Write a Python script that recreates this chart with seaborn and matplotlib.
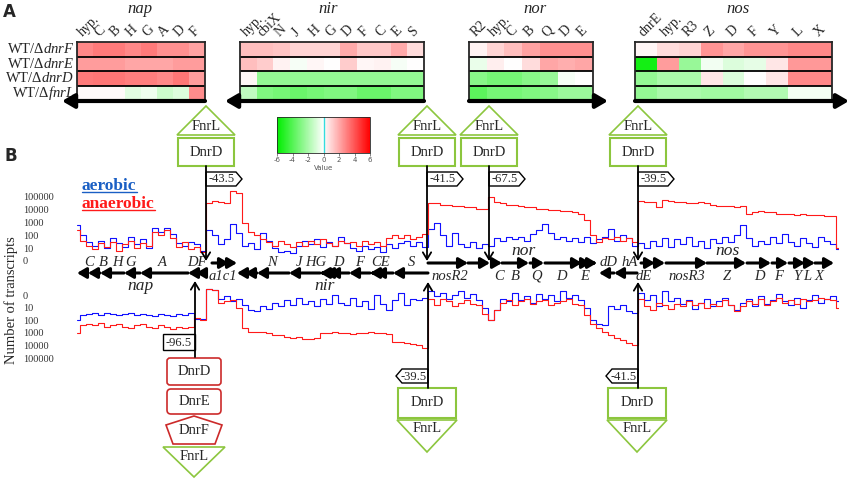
import numpy as np
import pandas as pd
import matplotlib
matplotlib.use("Agg")
import matplotlib.pyplot as plt
import seaborn as sns
from matplotlib.colors import LinearSegmentedColormap
from matplotlib.patches import Polygon, Rectangle, FancyBboxPatch

W, H = 851, 480

# ---- panel A: expression ratios (log2), rows = mutants
mutants = ["dnrF", "dnrE", "dnrD", "fnrL"]

nap_genes = ["hyp.", "C", "B", "H", "G", "A", "D", "F"]
nap_vals = [[2.8, 3.1, 3.1, 2.8, 3.1, 2.6, 2.6, 2.2],
            [2.3, 2.3, 2.3, 2.1, 2.1, 2.1, 2.3, 2.3],
            [3.1, 3.2, 3.2, 3.0, 3.0, 2.8, 3.2, 2.3],
            [0.1, 0.1, 0.1, -0.7, -0.4, -1.2, -0.8, 2.7]]

nir_genes = ["hyp.", "cbiX", "N", "J", "H", "G", "D", "F", "C", "E", "S"]
nir_vals = [[1.5, 1.5, 1.4, 1.0, 1.0, 1.0, 2.0, 1.3, 1.3, 2.0, 0.8],
            [1.5, 1.2, 0.3, -0.2, 0.2, 0.0, 1.2, 0.2, 0.3, -0.2, 0.0],
            [0.2, -2.5, -2.5, -2.5, -2.5, -2.5, -2.5, -2.5, -2.5, -2.5, -2.5],
            [-1.5, -3.0, -3.2, -3.5, -3.2, -3.0, -3.0, -3.5, -3.5, -3.0, -3.0]]

nor_genes = ["R2", "hyp.", "C", "B", "Q", "D", "E"]
nor_vals = [[0.3, 1.0, 1.5, 2.2, 2.6, 2.6, 2.6],
            [-0.5, 0.4, 0.0, 0.8, 2.1, 1.9, 2.1],
            [-2.8, -3.2, -3.2, -2.8, -2.4, -0.2, 0.0],
            [-3.8, -3.2, -3.2, -3.0, -2.8, -2.3, -2.3]]

nos_genes = ["dnrE", "hyp.", "R3", "Z", "D", "F", "Y", "L", "X"]
nos_vals = [[0.2, 0.8, 1.0, 2.5, 2.1, 2.5, 2.5, 2.8, 2.8],
            [-5.5, 2.3, -2.4, -0.3, -0.8, -0.6, 0.6, 2.4, 2.4],
            [-2.5, -2.0, -2.0, 0.6, -0.8, 0.0, 0.6, 2.8, 2.8],
            [-2.5, -2.0, -2.0, -2.2, -2.2, -1.8, -1.8, -0.3, -0.3]]

# ---- panel B: log10 transcript counts along the locus (128 bins)
aerobic_top = [2.8, 2.0, 1.5, 1.2, 1.6, 1.0, 1.8, 1.4, 1.1, 1.9, 1.3, 1.7, 1.0, 2.6, 2.3, 2.6,
               2.1, 1.4, 1.2, 1.5, 1.3, 0.8, 2.4, 2.0, 1.3, 1.7, 2.9, 2.2, 1.2, 1.4, 0.9, 2.2,
               1.6, 1.0, 0.7, 0.8, 0.6, 1.2, 1.6, 1.3, 1.7, 1.1, 1.5, 1.2, 1.9, 1.4, 1.0, 0.8,
               1.2, 0.9, 1.1, 0.7, 1.3, 1.0, 1.4, 1.6, 1.2, 1.5, 1.1, 2.5, 3.0, 2.0, 1.2, 2.2,
               1.3, 1.1, 1.5, 1.0, 1.3, 1.2, 1.8, 1.6, 1.9, 1.7, 1.9, 1.6, 2.1, 2.4, 2.9, 2.2,
               1.7, 1.9, 1.6, 1.8, 1.5, 1.9, 1.4, 1.7, 1.9, 2.5, 1.6, 2.0, 1.8, 1.2, 1.4, 1.0,
               1.6, 1.2, 1.8, 1.1, 1.7, 1.3, 1.9, 1.2, 1.6, 1.0, 1.7, 1.4, 1.9, 1.5, 2.0, 2.8,
               1.8, 1.2, 1.6, 1.3, 1.9, 1.4, 2.1, 1.5, 1.2, 1.8, 1.4, 1.1, 1.9, 1.6, 1.3, 0.9]
anaerobic_top = [2.4, 1.6, 1.2, 0.9, 1.4, 1.1, 1.5, 0.8, 1.3, 1.6, 1.0, 1.4, 1.2, 2.3, 2.0, 2.4,
                 1.8, 1.1, 1.5, 0.9, 1.1, 0.7, 4.5, 4.7, 4.6, 4.5, 5.5, 5.3, 3.0, 2.3, 2.0, 1.7,
                 1.5, 1.2, 1.6, 1.3, 1.1, 1.5, 1.2, 1.6, 1.3, 1.7, 1.4, 1.2, 1.6, 1.4, 1.5, 1.2,
                 1.6, 1.3, 1.5, 1.2, 1.8, 2.0, 1.8, 2.0, 1.7, 1.9, 2.1, 4.5, 4.5, 4.4, 4.4, 4.3,
                 4.3, 4.2, 4.2, 4.1, 4.1, 5.0, 4.6, 4.5, 4.4, 4.4, 4.3, 4.2, 4.2, 4.1, 4.1, 4.0,
                 4.0, 3.9, 3.9, 3.8, 3.7, 3.2, 2.0, 1.5, 1.8, 1.7, 1.9, 1.6, 1.8, 1.5, 4.7, 4.6,
                 4.6, 4.2, 4.8, 4.7, 4.6, 4.6, 4.5, 4.5, 4.6, 4.5, 4.4, 4.3, 4.3, 4.3, 4.2, 4.3,
                 3.7, 3.8, 3.9, 3.8, 3.8, 3.7, 3.7, 3.7, 3.6, 3.7, 3.6, 3.6, 3.6, 3.5, 3.5, 1.0]
aerobic_bot = [2.0, 1.6, 1.5, 1.4, 1.6, 1.4, 1.5, 1.6, 1.5, 1.4, 1.6, 1.5, 1.6, 1.7, 1.5, 1.6,
               1.7, 1.5, 1.6, 1.4, 1.9, 1.9, -0.5, -0.4, 0.3, 0.1, 0.5, 0.3, 0.8, 1.2, 1.3, 0.9,
               1.1, 0.6, 0.9, 0.4, 0.8, 0.2, 0.7, 0.5, 0.9, 0.3, 0.7, 0.0, 0.6, 0.8, 0.2, 0.9,
               0.5, 1.1, 0.0, 0.7, 1.2, 0.4, -0.2, 0.8, 0.3, 0.4, 0.2, -0.3, 0.1, -0.2, 0.3, 0.0,
               -0.3, 0.2, -0.1, 0.4, 1.0, 2.0, 1.2, 0.3, 0.5, -0.2, 0.4, 0.1, 0.6, -0.1, 0.3, 0.0,
               0.5, -0.3, 0.2, 0.0, 0.4, 1.0, 2.0, 2.3, 2.4, 0.9, 1.1, 0.8, 1.3, 1.4, -0.2, 0.4,
               0.0, 0.9, -0.3, 0.5, 0.2, 0.7, 0.4, 1.1, 0.6, 0.3, 0.9, 0.5, 0.2, 0.8, 1.2, 0.6,
               0.3, 0.9, 0.1, 0.7, 0.4, -0.1, 0.5, 0.8, 0.2, 1.0, 0.4, 0.0, 0.6, 0.3, 0.1, 0.5]
anaerobic_bot = [3.0, 2.4, 2.3, 2.4, 2.2, 2.5, 2.4, 2.3, 2.5, 2.6, 2.4, 2.3, 2.5, 2.6, 2.4, 2.5,
                 2.7, 2.5, 2.6, 2.5, 1.8, 2.0, -0.5, -0.4, 0.6, 0.5, 0.4, 1.0, 2.6, 2.9, 2.9, 2.9,
                 3.0, 3.2, 3.2, 3.3, 3.4, 3.3, 3.5, 3.5, 3.4, 3.0, 3.0, 2.9, 3.0, 3.0, 3.1, 3.0,
                 3.0, 2.9, 3.0, 3.0, 3.1, 3.7, 3.7, 3.8, 3.9, 4.0, 4.2, 0.3, 0.8, 0.3, 0.5, 0.9,
                 0.6, 0.4, 0.7, 0.8, 1.5, 2.0, 1.2, 0.6, 0.4, 0.8, 0.5, 0.3, 0.7, 0.5, 0.4, 0.8,
                 0.6, 0.5, 0.3, 0.7, 0.8, 1.6, 2.3, 2.6, 2.9, 3.2, 3.4, 3.6, 3.8, 4.0, 0.3, 0.9,
                 1.2, 0.6, 0.8, 1.1, 0.7, 0.9, 0.5, 0.8, 0.6, 1.0, 0.7, 0.9, 0.4, 0.8, 1.3, 0.9,
                 0.5, 0.7, 0.3, 0.8, 0.5, 0.2, 0.6, 0.4, 0.7, 0.3, 0.5, 0.4, 0.2, 0.3, 0.4, 1.0]
count_labels = ["0", "10", "100", "1000", "10000", "100000"]

# genes on the map; arrows point from start to end
fwd_genes = [(212, 229), (229, 237), (428, 468), (468, 490), (494, 502), (502, 529), (530, 544),
             (545, 582), (583, 591), (591, 597), (641, 655), (655, 665), (666, 707), (707, 746),
             (747, 771), (772, 788), (789, 805), (805, 815), (815, 834)]
rev_genes = [(88, 77), (100, 88), (124, 100), (140, 124), (188, 140), (196, 188), (203, 196),
             (245, 237), (257, 245), (289, 257), (320, 289), (324, 320), (329, 324), (349, 329),
             (370, 349), (375, 370), (393, 375), (428, 393), (614, 599), (637, 614)]
upper_names = [("C", 89), ("B", 103), ("H", 117), ("G", 131), ("A", 162), ("DF", 197),
               ("N", 272), ("J", 299), ("HG", 316), ("D", 338), ("F", 360), ("CE", 380),
               ("S", 412), ("dD", 609), ("hA", 630)]
lower_names = [("a1c1", 223), ("nosR2", 450), ("C", 499), ("B", 515), ("Q", 536), ("D", 561),
               ("E", 585), ("dE", 644), ("nosR3", 687), ("Z", 727), ("D", 759), ("F", 779),
               ("Y", 797), ("L", 807), ("X", 819)]
top_promoters = [(206, "-43.5"), (427, "-41.5"), (489, "-67.5"), (638, "-39.5")]
bottom_promoters = [(428, "-39.5"), (638, "-41.5")]

sns.set_style("white")
plt.rcParams["font.family"] = ["Liberation Serif", "DejaVu Serif"]
plt.rcParams["mathtext.fontset"] = "custom"
plt.rcParams["mathtext.rm"] = "Liberation Serif"
plt.rcParams["mathtext.it"] = "Liberation Serif:italic"
plt.rcParams["axes.unicode_minus"] = False

fig = plt.figure(figsize=(W / 100, H / 100), dpi=100)
fig.patch.set_facecolor("white")


def px_axes(x0, y0, x1, y1, **kw):
    return fig.add_axes([x0 / W, 1 - y1 / H, (x1 - x0) / W, (y1 - y0) / H], **kw)


cmap = LinearSegmentedColormap.from_list("gwr", ["#00ee00", "#ffffff", "#ff0000"])
row_names = ["WT/Δ$\\mathit{" + m + "}$" for m in mutants]


def heat(genes, vals, box, show_rows=False):
    ax = px_axes(*box)
    df = pd.DataFrame(vals, index=row_names, columns=genes)
    sns.heatmap(df, ax=ax, cmap=cmap, vmin=-6, vmax=6, cbar=False,
                yticklabels=show_rows, xticklabels=True)
    ax.xaxis.tick_top()
    ax.set_xticklabels(genes, rotation=45, ha="left", rotation_mode="anchor", fontsize=10)
    if show_rows:
        ax.set_yticklabels(row_names, rotation=0, fontsize=10.5)
    ax.tick_params(length=0, pad=2)
    for k in range(1, len(mutants)):
        ax.axhline(k, color="black", lw=1.3)
    for s in ax.spines.values():
        s.set_visible(True)
        s.set_linewidth(1.3)
    return ax


ax_nap = heat(nap_genes, nap_vals, (77, 42, 205, 100), show_rows=True)
heat(nir_genes, nir_vals, (240, 42, 424, 100))
heat(nor_genes, nor_vals, (469, 42, 593, 100))
heat(nos_genes, nos_vals, (635, 42, 832, 100))

cax = px_axes(277, 117, 370, 153)
cb = fig.colorbar(ax_nap.collections[0], cax=cax, orientation="horizontal", ticks=range(-6, 7, 2))
cb.outline.set_linewidth(0.6)
cax.tick_params(axis="x", labelsize=5, length=2, width=0.5, colors="#555555", pad=1)
cax.set_xlabel("Value", fontsize=5, labelpad=1, color="#555555", family="DejaVu Sans")
for t in cax.get_xticklabels():
    t.set_family("DejaVu Sans")
cax.axvline(0, color="#33dddd", lw=1)

# ---- transcript traces
pos = np.arange(len(aerobic_top))


def trace_axes(box, ylim, blue, red):
    ax = px_axes(*box)
    ax.patch.set_alpha(0)
    sns.lineplot(x=pos, y=blue, ax=ax, color="#1010ff", lw=0.8, drawstyle="steps-mid", estimator=None)
    sns.lineplot(x=pos, y=red, ax=ax, color="#ff1a1a", lw=0.8, drawstyle="steps-mid", estimator=None)
    ax.set_xlim(0, len(pos) - 1)
    ax.set_ylim(*ylim)
    ax.set_xticks([])
    ax.set_yticks(range(len(count_labels)))
    ax.set_yticklabels(count_labels, fontsize=7.5, color="#333333", ha="left")
    ax.tick_params(axis="y", length=0, pad=39)
    for s in ax.spines.values():
        s.set_visible(False)
    return ax


trace_axes((77, 184.2, 839, 267.4), (-0.5, 6.0), aerobic_top, anaerobic_top)
trace_axes((77, 285, 839, 364.3), (5.5, -0.8), aerobic_bot, anaerobic_bot)

# ---- annotation layer in pixel units
ax0 = fig.add_axes([0, 0, 1, 1], zorder=10)
ax0.set_xlim(0, W)
ax0.set_ylim(H, 0)
ax0.axis("off")
ax0.patch.set_alpha(0)

green = "#8cc63e"
dred = "#cc2a2a"

ax0.text(9, 12, "A", fontsize=12, fontweight="bold", family="DejaVu Sans", ha="center", va="center")
ax0.text(11, 156, "B", fontsize=12, fontweight="bold", family="DejaVu Sans", ha="center", va="center")
for name, x in [("nap", 140), ("nir", 328), ("nor", 535), ("nos", 738)]:
    ax0.text(x, 9, name, fontsize=12, style="italic", ha="center", va="center")


def arrow(x0, x1, y, lw=2.2, scale=9, color="black"):
    ax0.annotate("", xy=(x1, y), xytext=(x0, y),
                 arrowprops=dict(arrowstyle="-|>,head_length=0.6,head_width=0.35", lw=lw,
                                 color=color, shrinkA=0, shrinkB=0, mutation_scale=scale))


# thick arrows under the heatmaps
arrow(205, 62, 101, lw=3, scale=12)
arrow(424, 225, 101, lw=3, scale=12)
arrow(469, 608, 101, lw=3, scale=12)
arrow(635, 849, 101, lw=3, scale=12)

for a, b in fwd_genes:
    arrow(a, b, 263)
for a, b in rev_genes:
    arrow(a, b, 273)
for name, x in upper_names:
    ax0.text(x, 263, name, fontsize=10.5, style="italic", ha="center", va="center")
for name, x in lower_names:
    ax0.text(x, 276, name, fontsize=10.5, style="italic", ha="center", va="center")
for name, x, y in [("nap", 140, 286), ("nir", 325, 286), ("nor", 523, 251), ("nos", 728, 251)]:
    ax0.text(x, y, name, fontsize=12.5, style="italic", ha="center", va="center")

# top promoters
for cx, lab in top_promoters:
    ax0.add_patch(Polygon([(cx - 29, 135), (cx, 106), (cx + 29, 135)], closed=True,
                          fc="white", ec=green, lw=1.2))
    ax0.text(cx, 126, "FnrL", fontsize=10.5, ha="center", va="center")
    ax0.add_patch(Rectangle((cx - 28, 138), 56, 28, fc="white", ec=green, lw=1.5))
    ax0.text(cx, 152, "DnrD", fontsize=10.5, ha="center", va="center")
    ax0.annotate("", xy=(cx, 261), xytext=(cx, 166),
                 arrowprops=dict(arrowstyle="->,head_length=0.5,head_width=0.3", lw=1.3,
                                 color="black", shrinkA=0, shrinkB=0, mutation_scale=10))
    ax0.add_patch(Polygon([(cx, 172), (cx + 30, 172), (cx + 36, 179), (cx + 30, 186), (cx, 186)],
                          closed=True, fc="white", ec="black", lw=1))
    ax0.text(cx + 16, 179.5, lab, fontsize=9, ha="center", va="center")

# bottom promoters (DnrD + FnrL)
for cx, lab in bottom_promoters:
    ax0.annotate("", xy=(cx, 282), xytext=(cx, 388),
                 arrowprops=dict(arrowstyle="->,head_length=0.5,head_width=0.3", lw=1.3,
                                 color="black", shrinkA=0, shrinkB=0, mutation_scale=10))
    ax0.add_patch(Polygon([(cx, 369), (cx - 26, 369), (cx - 32, 376), (cx - 26, 383), (cx, 383)],
                          closed=True, fc="white", ec="black", lw=1))
    ax0.text(cx - 14, 376.5, lab, fontsize=9, ha="center", va="center")
    ax0.add_patch(Rectangle((cx - 30, 388), 58, 30, fc="white", ec=green, lw=1.5))
    ax0.text(cx - 1, 403, "DnrD", fontsize=10.5, ha="center", va="center")
    ax0.add_patch(Polygon([(cx - 31, 420), (cx + 29, 420), (cx - 1, 452)], closed=True,
                          fc="white", ec=green, lw=1.2))
    ax0.text(cx - 1, 429, "FnrL", fontsize=10.5, ha="center", va="center")

# nap promoter stack
cx = 195
ax0.annotate("", xy=(cx, 281), xytext=(cx, 357),
             arrowprops=dict(arrowstyle="->,head_length=0.5,head_width=0.3", lw=1.3,
                             color="black", shrinkA=0, shrinkB=0, mutation_scale=10))
ax0.add_patch(Rectangle((163, 334), 32, 16, fc="white", ec="black", lw=1))
ax0.text(179, 342.5, "-96.5", fontsize=9, ha="center", va="center")
ax0.add_patch(FancyBboxPatch((167, 358), 54, 27, boxstyle="round,pad=0,rounding_size=3",
                             fc="white", ec=dred, lw=1.2))
ax0.text(194, 371.5, "DnrD", fontsize=10.5, ha="center", va="center")
ax0.add_patch(FancyBboxPatch((167, 389), 54, 25, boxstyle="round,pad=0,rounding_size=4",
                             fc="white", ec=dred, lw=1.2))
ax0.text(194, 401.5, "DnrE", fontsize=10.5, ha="center", va="center")
ax0.add_patch(Polygon([(194, 416), (222, 425), (215, 444), (173, 444), (166, 425)], closed=True,
                      fc="white", ec=dred, lw=1.2))
ax0.text(194, 431, "DnrF", fontsize=10.5, ha="center", va="center")
ax0.add_patch(Polygon([(163, 447), (225, 447), (194, 477)], closed=True, fc="white", ec=green, lw=1.2))
ax0.text(194, 456, "FnrL", fontsize=10.5, ha="center", va="center")

# legend and axis title
fig.canvas.draw()
renderer = fig.canvas.get_renderer()
inv = ax0.transData.inverted()
for lab, col, y in [("aerobic", "#1a5fc4", 186), ("anaerobic", "#ff1a1a", 204)]:
    t = ax0.text(82, y, lab, color=col, fontsize=12.5, fontweight="bold", ha="left", va="center")
    bb = t.get_window_extent(renderer)
    (xa, _), (xb, _) = inv.transform([(bb.x0, bb.y0), (bb.x1, bb.y0)])
    ax0.plot([xa, xb], [y + 6, y + 6], color=col, lw=1)
ax0.text(11, 300, "Number of transcripts", rotation=90, fontsize=10.5, ha="center", va="center")

fig.savefig("out.png", dpi=100)
